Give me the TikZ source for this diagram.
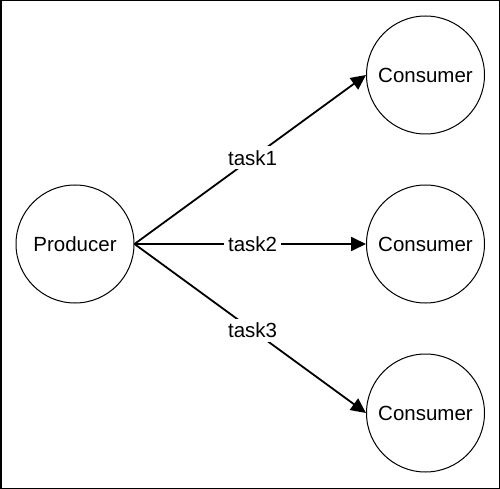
\documentclass[tikz,border=0pt]{standalone}
\usepackage{fontspec}
\setmainfont{Liberation Sans}
\usetikzlibrary{arrows.meta}
\begin{document}
\begin{tikzpicture}[x=1pt,y=-1pt]
            \tikzstyle{arrow} = [line width=1.8pt,-{Triangle[length=15pt,width=14pt]}]
            \tikzstyle{agent} = [draw,circle,line width=1pt,minimum size=118pt,inner sep=0pt,font=\fontsize{20.5}{24}\selectfont]
            \tikzstyle{tasklabel} = [fill=white,inner sep=4pt,font=\fontsize{20.5}{24}\selectfont]
            \def \spacing{169}

            \useasboundingbox (0,0) rectangle (500,489);
            \draw[line width=1.5pt] (0.75,0.75) rectangle (499.25,488.25);

            \node[agent] (producer) at (75,244) {Producer};
            \node[agent] (consumerA) at (425.5,244-\spacing) {Consumer};
            \node[agent] (consumerB) at (425.5,244) {Consumer};
            \node[agent] (consumerC) at (425.5,244+\spacing) {Consumer};

            \draw[arrow] (producer.east) -- node[tasklabel, pos=0.51] {task1} (consumerA.west);
            \draw[arrow] (producer.east) -- node[tasklabel, pos=0.51] {task2} (consumerB.west);
            \draw[arrow] (producer.east) -- node[tasklabel, pos=0.51] {task3} (consumerC.west);
        \end{tikzpicture}
\end{document}
